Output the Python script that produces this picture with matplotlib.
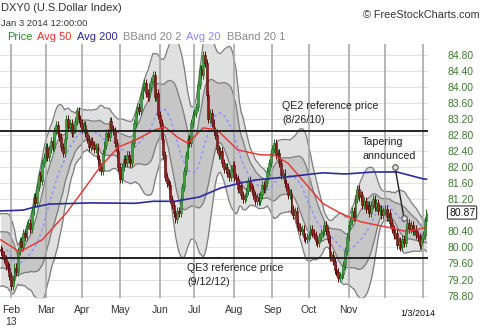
import numpy as np
import pandas as pd
import matplotlib
matplotlib.use('Agg')
import matplotlib.pyplot as plt
from matplotlib.transforms import blended_transform_factory

plt.rcParams['font.family'] = ['Liberation Sans', 'DejaVu Sans']

# ---- data (daily closes, DXY) ----
warmup = [79.75, 79.75, 79.8, 79.55, 80.3, 80.7, 80.6, 80.65, 80.75, 80.45,
          79.75, 79.3, 79.4, 79.45, 79.6, 79.75, 79.7, 79.65, 79.95]
jan13 = [79.9, 79.8, 79.7, 79.55, 79.5, 79.3]
feb13 = [79.05, 79.2, 79.5, 79.4, 79.9, 80.15, 80.0, 80.35, 80.25, 80.55,
         80.6, 80.45, 80.9, 81.25, 81.1, 81.5, 81.8, 81.65, 82.1, 82.25]
mar13 = [82.5, 82.25, 82.45, 82.65, 82.5, 82.9, 83.05, 82.85, 82.75, 82.5,
         82.35, 82.7, 83.2, 83.0, 83.1, 82.85, 82.95, 83.15, 83.4, 83.2, 83.1]
apr13 = [82.95, 83.05, 82.85, 82.7, 82.5, 82.65, 82.55, 82.45, 82.5, 82.2,
         82.0, 81.9, 82.35, 82.55, 82.85, 82.75, 83.15, 82.95, 82.9, 82.6,
         82.4, 82.0]
may13 = [81.7, 82.0, 82.2, 82.1, 82.3, 82.2, 82.1, 82.6, 83.1, 83.35, 83.5,
         83.4, 83.8, 84.0, 84.1, 83.85, 83.75, 84.0, 84.15, 84.3, 83.75, 83.85,
         83.3]
jun13 = [83.1, 82.7, 82.3, 81.75, 81.6, 81.55, 81.2, 81.05, 80.85, 80.7,
         80.9, 80.85, 81.2, 81.5, 81.9, 82.3, 82.7, 82.6, 83.1, 83.3]
jul13 = [83.35, 83.5, 84.05, 84.45, 84.3, 84.8, 84.6, 83.8, 83.2, 83.35,
         83.1, 82.9, 82.8, 82.45, 82.3, 82.4, 82.1, 81.95, 82.0, 81.85, 81.75,
         81.95, 82.05]
aug13 = [81.75, 81.7, 81.45, 81.55, 81.3, 81.2, 81.25, 81.4, 81.65, 81.5,
         81.45, 81.3, 81.15, 81.25, 81.15, 81.3, 81.55, 81.45, 81.6, 81.9,
         82.1, 82.35]
sep13 = [82.45, 82.6, 82.3, 82.35, 82.1, 81.8, 81.85, 81.6, 81.5, 81.3,
         81.35, 80.95, 80.8, 80.9, 80.6, 80.5, 80.4, 80.45, 80.25, 80.2, 80.25]
oct13 = [80.3, 80.45, 80.35, 80.3, 80.15, 80.1, 80.25, 80.35, 80.4, 80.55,
         80.4, 80.2, 79.75, 79.8, 79.65, 79.45, 79.4, 79.25, 79.3, 79.35,
         79.55, 79.9, 80.25]
nov13 = [80.55, 80.65, 80.9, 80.75, 81.2, 81.45, 81.25, 81.3, 81.05, 81.15,
         80.95, 81.05, 80.85, 81.05, 81.2, 81.0, 81.1, 80.9, 80.95, 80.8, 80.9]
dec13 = [80.95, 80.75, 80.85, 80.6, 80.45, 80.3, 80.35, 80.05, 80.15, 80.0,
         80.2, 80.1, 80.45, 80.6, 80.45, 80.55, 80.4, 80.45, 80.3, 80.25,
         80.05, 80.2]
jan14 = [80.3, 80.65, 80.87]

avg50_idx = [0, 11, 24, 38, 49, 57, 68, 78, 89, 95, 102, 108, 117, 125, 131,
             137, 150, 158, 166, 176, 186, 196, 208, 225, 235, 246]
avg50_val = [80.19, 79.89, 80.19, 80.86, 81.5, 81.98, 82.5, 82.68, 82.93, 83.0,
             82.75, 82.6, 82.98, 82.93, 82.68, 82.43, 82.31, 82.3, 82.1, 81.6,
             81.1, 80.86, 80.64, 80.49, 80.39, 80.5]
avg200_idx = [0, 13, 19, 28, 52, 78, 88, 101, 115, 127, 138, 147, 166, 186,
              199, 215, 229, 244, 246]
avg200_val = [80.91, 80.93, 81.0, 81.08, 81.11, 81.1, 81.15, 81.15, 81.26,
              81.48, 81.6, 81.68, 81.76, 81.86, 81.83, 81.88, 81.88, 81.71, 81.7]

qe2_level = 82.89
qe3_level = 79.74
month_labels = ['Feb\n13', 'Mar', 'Apr', 'May', 'Jun', 'Jul', 'Aug', 'Sep',
                'Oct', 'Nov', '', '']
y_ticks = [84.80, 84.40, 84.00, 83.60, 83.20, 82.80, 82.40, 82.00, 81.60,
           81.20, 80.40, 80.00, 79.60, 79.20, 78.80]
last_label = '80.87'

# ---- derived ----
months = [jan13, feb13, mar13, apr13, may13, jun13, jul13, aug13, sep13,
          oct13, nov13, dec13, jan14]
closes = np.array(sum(months, []))
n = len(closes)
idx = np.arange(n)
month_start = np.cumsum([0] + [len(m) for m in months])[1:-1]
hist = pd.Series(list(warmup) + list(closes))
mid = hist.rolling(20).mean().values[-n:]
sd = hist.rolling(20).std(ddof=0).values[-n:]
opens = np.concatenate([[warmup[-1]], closes[:-1]])

fig = plt.figure(figsize=(4.8, 3.27), dpi=100)
W, H = 480, 327
ax = fig.add_axes([0, 29 / H, 428 / W, 254 / H])
ax.set_xlim(-0.36, 246.9)
ax.set_ylim(78.74, 85.07)
for s in ax.spines.values():
    s.set_visible(False)

# grid
for g in np.arange(78.8, 84.81, 0.4):
    ax.axhline(g, color='#e2e2e2', lw=0.8, zorder=0)
for m in month_start:
    ax.axvline(m, color='#a9a9a9', lw=1.2, zorder=2.5)

# bollinger bands
ax.fill_between(idx, mid - 2 * sd, mid + 2 * sd, color='#e0e0e0', zorder=1, lw=0)
ax.fill_between(idx, mid - sd, mid + sd, color='#c6c6c6', zorder=1.2, lw=0)
for k in (-2, -1, 1, 2):
    ax.plot(idx, mid + k * sd, color='#7c7c7c', lw=0.9, zorder=2)
ax.plot(idx, mid, color='#8c8cff', lw=1.0, ls=(0, (2, 2)), zorder=4)

# candles
wick = 0.1
up = closes >= opens
lo = np.minimum(opens, closes)
hi = np.maximum(opens, closes)
hgt = np.maximum(hi - lo, 0.02)
ax.vlines(idx[up], lo[up] - wick, hi[up] + wick, color='#1f6b1f', lw=0.7, zorder=4.5)
ax.vlines(idx[~up], lo[~up] - wick, hi[~up] + wick, color='#5a0a0a', lw=0.7, zorder=4.5)
ax.bar(idx[up], hgt[up], bottom=lo[up], width=1.05, color='#3f9f3f',
       edgecolor='#1f6b1f', lw=0.4, zorder=5)
ax.bar(idx[~up], hgt[~up], bottom=lo[~up], width=1.05, color='#8e1b1b',
       edgecolor='#5a0a0a', lw=0.4, zorder=5)

# moving averages
ax.plot(avg50_idx, avg50_val, color='#e8322e', lw=1.0, zorder=6)
ax.plot(avg200_idx, avg200_val, color='#2b2b9e', lw=1.2, zorder=6)

# reference lines
ax.axhline(qe2_level, color='#222222', lw=1.4, zorder=6)
ax.axhline(qe3_level, color='#222222', lw=1.4, zorder=6)

ax.text(162.6, 83.53, 'QE2 reference price', fontsize=7.7, va='center', color='#222', zorder=7)
ax.text(162.6, 83.18, '(8/26/10)', fontsize=7.7, va='center', color='#222', zorder=7)
ax.text(107.7, 79.49, 'QE3 reference price', fontsize=7.7, va='center', color='#222', zorder=7)
ax.text(107.7, 79.14, '(9/12/12)', fontsize=7.7, va='center', color='#222', zorder=7)
ax.text(208.8, 82.63, 'Tapering', fontsize=7.7, va='center', color='#222', zorder=7)
ax.text(208.8, 82.28, 'announced', fontsize=7.7, va='center', color='#222', zorder=7)
ax.plot([227.8, 233.0], [82.01, 80.74], color='#222222', lw=1.0, zorder=7)
ax.plot([227.8, 233.0], [82.01, 80.74], ls='none', marker='o', ms=4,
        mfc='#dddddd', mec='#555555', mew=0.8, zorder=8)

# axes ticks
ax.yaxis.tick_right()
ax.set_yticks(y_ticks)
ax.set_yticklabels(['%.2f' % v for v in y_ticks], fontsize=7.5, color='#3b7d2a')
ax.tick_params(axis='y', length=0, pad=14)
ax.set_xticks(month_start)
ax.set_xticklabels(month_labels, fontsize=7.5, color='#333333', linespacing=1.25)
ax.tick_params(axis='x', length=0, pad=5)

tr = blended_transform_factory(ax.transAxes, ax.transData)
ax.text(449 / 428, 80.87, last_label, transform=tr, fontsize=7.5, va='center',
        ha='left', color='#111',
        bbox=dict(boxstyle='round,pad=0.15', fc='white', ec='#333', lw=0.8))

# header texts
def ft(x, y, s, **kw):
    fig.text(x / W, 1 - y / H, s, va='center', **kw)

ft(1, 8, 'DXY0 (U.S.Dollar Index)', fontsize=8.0, color='#333333')
ft(1, 23, 'Jan 3 2014 12:00:00', fontsize=6.8, color='#333333')
ft(7, 37, 'Price', fontsize=8, color='#2e8b2e')
ft(37, 37, 'Avg 50', fontsize=8, color='#e8322e')
ft(77, 37, 'Avg 200', fontsize=8, color='#2b2b9e')
ft(123, 37, 'BBand 20 2', fontsize=8, color='#8a8a8a')
ft(186, 37, 'Avg 20', fontsize=8, color='#8c8cff')
ft(227, 37, 'BBand 20 1', fontsize=8, color='#8a8a8a')
ft(363, 15, '\u00a9 FreeStockCharts.com', fontsize=7.8, color='#333333')
ft(400, 314, '1/3/2014', fontsize=6.5, color='#111111')

fig.savefig('out.png', dpi=100)
